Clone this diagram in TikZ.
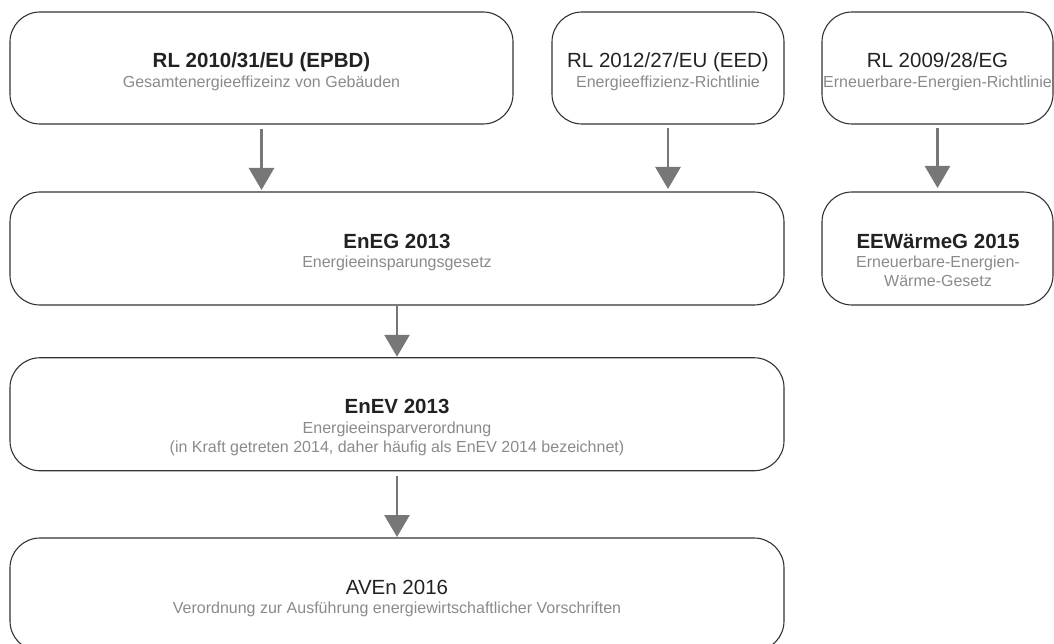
\documentclass[tikz,border=0pt]{standalone}
\usepackage{fontspec}
\setmainfont{Liberation Sans}
\usetikzlibrary{arrows.meta}
\definecolor{boxline}{HTML}{333333}
\definecolor{titlegray}{HTML}{222222}
\definecolor{subgray}{HTML}{8A8A8A}
\definecolor{arrowgray}{HTML}{777777}
\begin{document}
\begin{tikzpicture}[x=1pt,y=-1pt,
  law/.style={draw=boxline, line width=1.1pt, rounded corners=30pt, minimum height=113pt, inner sep=0pt, outer sep=0pt},
  ttl/.style={anchor=base, text=titlegray, inner sep=0pt, font=\fontsize{20.5}{24}\selectfont},
  ttlb/.style={ttl, font=\fontsize{20.5}{24}\selectfont\bfseries},
  sub/.style={anchor=base, text=subgray, inner sep=0pt, align=center, font=\fontsize{16}{19}\selectfont},
  flow/.style={draw=arrowgray, line width=2.7pt, -{Triangle[width=25pt,length=22pt]}}]
\clip (0,0) rectangle (1054,644);
% EU-Richtlinien
\node[law, minimum width=503pt, minimum height=112pt] (epbd) at (261.5,68){};
\node[ttlb] (tepbd) at (261.5,68){RL 2010/31/EU (EPBD)};
\node[sub] (sepbd) at (261.5,87.5){Gesamtenergieeffizeinz von Gebäuden};
\node[law, minimum width=232pt, minimum height=112pt] (eed) at (668,68){};
\node[ttl] (teed) at (668,68){RL 2012/27/EU (EED)};
\node[sub] (seed) at (668,87.5){Energieeffizienz-Richtlinie};
\node[law, minimum width=231pt, minimum height=112pt] (eerl) at (937.5,68){};
\node[ttl] (teerl) at (937.5,68){RL 2009/28/EG};
\node[sub] (seerl) at (937.5,87.5){Erneuerbare-Energien-Richtlinie};
% Gesetze
\node[law, minimum width=774pt] (eneg) at (397,248.5){};
\node[ttlb] (teneg) at (397,248){EnEG 2013};
\node[sub] (seneg) at (397,267.5){Energieeinsparungsgesetz};
\node[law, minimum width=231pt] (eewg) at (937.5,248.5){};
\node[ttlb] (teewg) at (938,248){EEWärmeG 2015};
% base = letzte Zeile
\node[sub] (seewg) at (938,286.5){Erneuerbare-Energien-\\Wärme-Gesetz};
% Verordnungen
\node[law, minimum width=774pt] (enev) at (397,414.25){};
\node[ttlb] (tenev) at (397,413.5){EnEV 2013};
\node[sub] (senev) at (397,452){Energieeinsparverordnung\\(in Kraft getreten 2014, daher häufig als EnEV 2014 bezeichnet)};
\node[law, minimum width=774pt] (aven) at (397,594.5){};
\node[ttl] (taven) at (397,594.5){AVEn 2016};
\node[sub] (saven) at (397,613.5){Verordnung zur Ausführung energiewirtschaftlicher Vorschriften};
% Pfeile
\draw[flow, shorten <=5pt, shorten >=2pt] (epbd) -- (epbd |- eneg.north);
\draw[flow, shorten <=4pt, shorten >=3pt] (eed) -- (eed |- eneg.north);
\draw[flow, shorten <=4pt, shorten >=4pt] (eerl) -- (eewg);
\draw[flow, shorten >=1pt] (eneg) -- (enev);
\draw[flow, shorten <=5pt, shorten >=1pt] (enev) -- (aven);
\end{tikzpicture}
\end{document}
